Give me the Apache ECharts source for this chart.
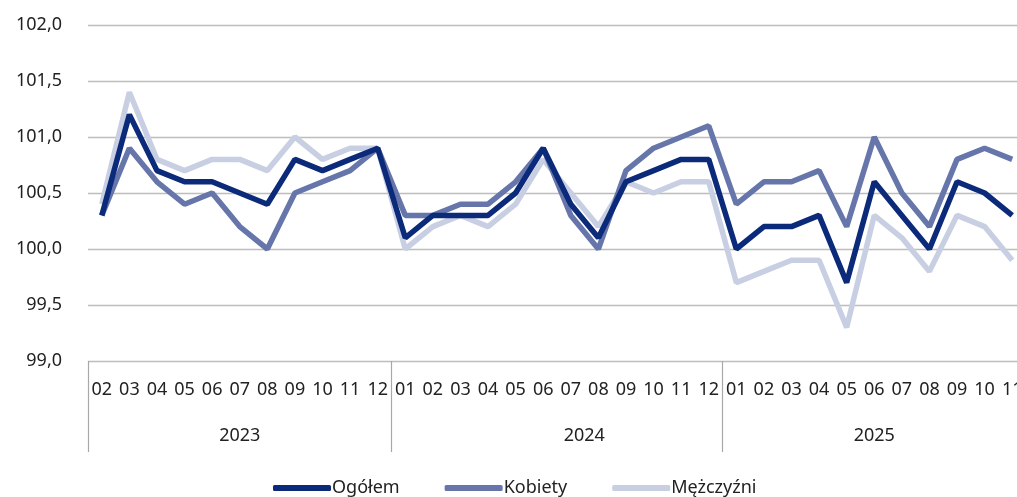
<!DOCTYPE html>
<html>
<head>
<meta charset="UTF-8">
<title>Wskaźnik</title>
<style>
  html, body { margin: 0; padding: 0; background: #fff; }
  #chart { width: 1017px; height: 497px; }
</style>
</head>
<body>
<div id="chart"></div>
<script src="https://cdn.jsdelivr.net/npm/echarts@6/dist/echarts.min.js"></script>
<script>
// miesiace i lata
var months = ['02','03','04','05','06','07','08','09','10','11','12',
              '01','02','03','04','05','06','07','08','09','10','11','12',
              '01','02','03','04','05','06','07','08','09','10','11'];
var years = ['2023', '2024', '2025'];
var yearStart = [0, 11, 23];   // indeks pierwszego miesiaca w danym roku
var yearLen = [11, 12, 11];

// dane
var ogolem = [100.3,101.2,100.7,100.6,100.6,100.5,100.4,100.8,100.7,100.8,100.9,
              100.1,100.3,100.3,100.3,100.5,100.9,100.4,100.1,100.6,100.7,100.8,100.8,
              100.0,100.2,100.2,100.3,99.7,100.6,100.3,100.0,100.6,100.5,100.3];
var kobiety = [100.3,100.9,100.6,100.4,100.5,100.2,100.0,100.5,100.6,100.7,100.9,
               100.3,100.3,100.4,100.4,100.6,100.9,100.3,100.0,100.7,100.9,101.0,101.1,
               100.4,100.6,100.6,100.7,100.2,101.0,100.5,100.2,100.8,100.9,100.8];
var mezczyzni = [100.4,101.4,100.8,100.7,100.8,100.8,100.7,101.0,100.8,100.9,100.9,
                 100.0,100.2,100.3,100.2,100.4,100.8,100.5,100.2,100.6,100.5,100.6,100.6,
                 99.7,99.8,99.9,99.9,99.3,100.3,100.1,99.8,100.3,100.2,99.9];

var FONT = 'Noto Sans';
var TXT = '#222';

// etykieta roku w srodku grupy (przy parzystej liczbie miesiecy przesuwamy o pol kategorii)
var yearAt = {};
for (var i = 0; i < years.length; i++) {
  var mid = yearStart[i] + Math.floor(yearLen[i] / 2);
  yearAt[mid] = { text: years[i], even: yearLen[i] % 2 == 0 };
}

var chart = echarts.init(document.getElementById('chart'));
var option = {
  animation: false,
  textStyle: { fontFamily: FONT },
  color: ['#0c2a7a', '#6676aa', '#c9cfe3'],
  grid: { left: 88, right: -9, top: 25, bottom: 136, outerBoundsMode: 'none' },
  legend: {
    top: 479,
    left: 273,
    padding: 0,
    icon: 'roundRect',
    itemWidth: 58,
    itemHeight: 6,
    itemGap: 45,
    textStyle: { fontFamily: FONT, fontSize: 18, color: TXT, padding: [0, 0, 0, -4] },
    data: ['Ogółem', 'Kobiety', 'Mężczyźni']
  },
  xAxis: [{
    type: 'category',
    data: months,
    boundaryGap: true,
    axisLine: { show: false },
    axisTick: { show: false },
    axisLabel: { interval: 0, margin: 20, fontSize: 18, color: TXT, fontFamily: FONT }
  }, {
    type: 'category',
    data: months,
    position: 'bottom',
    boundaryGap: true,
    axisLine: { show: false },
    axisTick: {
      show: true,
      length: 91,
      interval: function (idx) { return yearStart.indexOf(idx) >= 0; },
      lineStyle: { color: '#a8a8a8', width: 1.2 }
    },
    axisLabel: {
      interval: 0,
      margin: 66,
      fontSize: 18,
      color: TXT,
      fontFamily: FONT,
      formatter: function (v, idx) {
        var y = yearAt[idx];
        if (!y) return '';
        return y.even ? '{s|' + y.text + '}' : y.text;
      },
      rich: { s: { fontSize: 18, color: TXT, fontFamily: FONT, padding: [0, 0, 0, 27] } }
    }
  }],
  yAxis: {
    type: 'value',
    min: 99,
    max: 102,
    interval: 0.5,
    axisLine: { show: false },
    axisTick: { show: false },
    axisLabel: {
      margin: 26,
      fontSize: 18,
      color: TXT,
      fontFamily: FONT,
      formatter: function (v) { return v.toFixed(1).replace('.', ','); }
    },
    splitLine: { lineStyle: { color: '#bdbdbd', width: 1.3 } }
  },
  series: [{
    name: 'Ogółem', type: 'line', data: ogolem, z: 4,
    showSymbol: false, lineStyle: { width: 5.5 }
  }, {
    name: 'Kobiety', type: 'line', data: kobiety, z: 3,
    showSymbol: false, lineStyle: { width: 5.5 }
  }, {
    name: 'Mężczyźni', type: 'line', data: mezczyzni, z: 2,
    showSymbol: false, lineStyle: { width: 5.5 }
  }]
};
chart.setOption(option);
</script>
</body>
</html>
